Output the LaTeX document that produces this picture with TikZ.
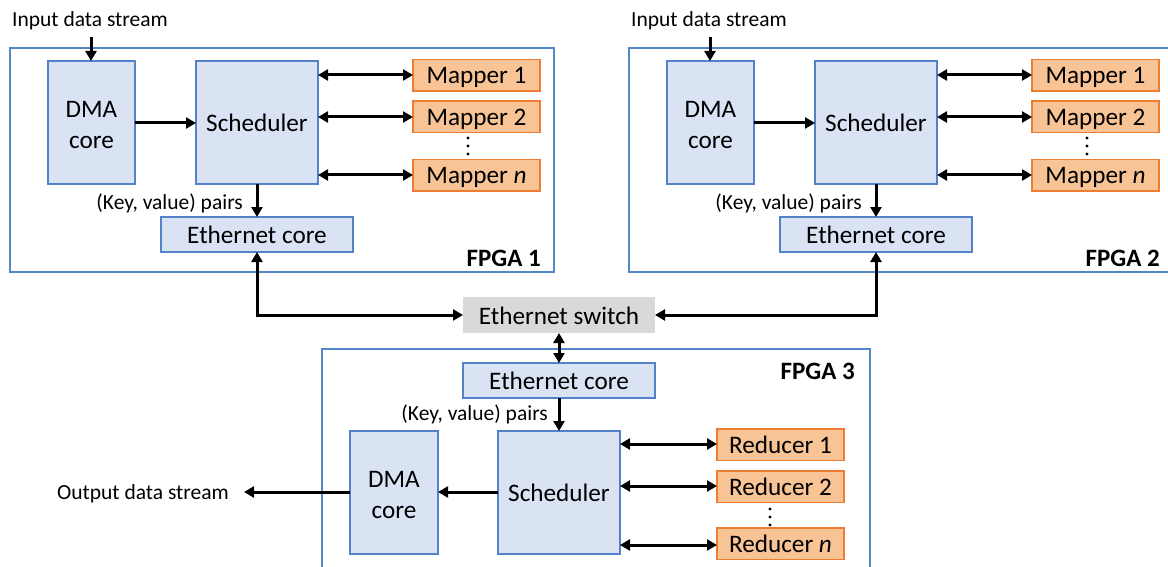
\documentclass[tikz,border=0pt]{standalone}
\usepackage{fontspec}
\setmainfont{Carlito}
\usetikzlibrary{arrows.meta}
\definecolor{bfill}{RGB}{218,227,243}
\definecolor{bdraw}{RGB}{84,130,200}
\definecolor{fdraw}{RGB}{84,135,200}
\definecolor{ofill}{RGB}{248,196,150}
\definecolor{odraw}{RGB}{237,125,49}
\definecolor{gfill}{RGB}{217,217,217}
\newcommand{\twolines}[2]{\raisebox{5pt}{\begin{tabular}[t]{@{}c@{}}#1\\#2\end{tabular}}}
\tikzset{
  bluebox/.style={draw=bdraw,fill=bfill,line width=1.5pt,inner sep=0pt,outer sep=0pt,anchor=north west,font=\fontsize{25.2}{30.6}\selectfont},
  oneline/.style={text height=18pt,text depth=0pt},
  zeroline/.style={text height=0pt,text depth=0pt},
  orbox/.style={draw=odraw,fill=ofill,line width=1.5pt,inner sep=0pt,outer sep=0pt,anchor=north west,minimum width=127pt,minimum height=31.5pt,font=\fontsize{25.2}{28}\selectfont,text height=17pt,text depth=0pt},
  frame/.style={draw=fdraw,line width=1.4pt},
  small/.style={font=\fontsize{21.5}{24}\selectfont,inner sep=0pt},
  flabel/.style={font=\bfseries\fontsize{25}{28}\selectfont,inner sep=0pt,anchor=east},
  arr/.style={line width=3pt,-{Triangle[length=10pt,width=11pt]}},
  darr/.style={line width=3pt,{Triangle[length=10pt,width=11pt]}-{Triangle[length=10pt,width=11pt]}},
  dotc/.style={fill=black,circle,inner sep=0pt,minimum size=3.4pt}
}
\begin{document}
\begin{tikzpicture}[x=1pt,y=-1pt]
\useasboundingbox (0,0) rectangle (1168,567);
\clip (0,0) rectangle (1168,567);
% ---------- FPGA 1 and FPGA 2 ----------
\foreach \dx/\k/\lab in {0/1/{FPGA 1},619/2/{FPGA 2}}{
  \begin{scope}[xshift=\dx]
    \draw[frame] (10,48) rectangle (554,272);
    \node[small] (in\k) at (90,21) {Input data stream};
    \coordinate (inc\k) at (91,37);
    \node[bluebox,zeroline,minimum width=87pt,minimum height=123pt] (dma\k) at (48,61) {\twolines{DMA}{core}};
    \node[bluebox,oneline,minimum width=122pt,minimum height=123pt] (sch\k) at (196,61) {Scheduler};
    \node[orbox] (ma\k) at (413,59.5) {Mapper 1};
    \node[orbox] (mb\k) at (413,101) {Mapper 2};
    \node[orbox] (mn\k) at (413,159.5) {Mapper \emph{n}};
    \node[dotc] (d1\k) at (468,138) {};
    \node[dotc] (d2\k) at (468,146) {};
    \node[dotc] (d3\k) at (468,154) {};
    \node[bluebox,oneline,minimum width=192pt,minimum height=35pt] (eth\k) at (161,217) {Ethernet core};
    \node[small,anchor=east] (kv\k) at (243,203) {(Key, value) pairs};
    \node[flabel] (fl\k) at (541,258) {\lab};
    \draw[arr] (inc\k) -- (dma\k.north -| inc\k);
    \draw[arr] (dma\k.east |- 0,123) -- (sch\k.west |- 0,123);
    \draw[darr] (sch\k.east |- 0,75) -- (ma\k.west |- 0,75);
    \draw[darr] (sch\k.east |- 0,117) -- (mb\k.west |- 0,117);
    \draw[darr] (sch\k.east |- 0,175) -- (mn\k.west |- 0,175);
    \draw[arr] (sch\k.south -| 257,0) -- (eth\k.north -| 257,0);
  \end{scope}
}
% ---------- Ethernet switch ----------
\node[fill=gfill,inner sep=0pt,outer sep=0pt,minimum width=192pt,minimum height=36pt,font=\fontsize{25.2}{28}\selectfont,text height=18pt,text depth=0pt] (sw) at (559,315) {Ethernet switch};
\draw[darr] (eth1.south -| 257,0) |- (sw.west);
\draw[darr] (eth2.south -| 876,0) |- (sw.east);
% ---------- FPGA 3 ----------
\draw[frame] (322,349) rectangle (870,600);
\node[bluebox,oneline,minimum width=192pt,minimum height=35pt] (eth3) at (463,363) {Ethernet core};
\draw[darr] (sw.south) -- (eth3.north);
\node[small,anchor=east] (kv3) at (548,414) {(Key, value) pairs};
\node[flabel] (fl3) at (855,371) {FPGA 3};
\node[bluebox,oneline,minimum width=122pt,minimum height=123pt] (sch3) at (498,431) {Scheduler};
\node[bluebox,zeroline,minimum width=88pt,minimum height=123pt] (dma3) at (350,431) {\twolines{DMA}{core}};
\draw[arr] (eth3.south) -- (sch3.north);
\node[orbox] (ra) at (717,429) {Reducer 1};
\node[orbox] (rb) at (717,471) {Reducer 2};
\node[orbox] (rn) at (717,528) {Reducer \emph{n}};
\node[dotc] (e1) at (770,509) {};
\node[dotc] (e2) at (770,517) {};
\node[dotc] (e3) at (770,525) {};
\draw[darr] (sch3.east |- 0,444) -- (ra.west |- 0,444);
\draw[darr] (sch3.east |- 0,486) -- (rb.west |- 0,486);
\draw[darr] (sch3.east |- 0,545) -- (rn.west |- 0,545);
\draw[arr] (sch3.west |- 0,492) -- (dma3.east |- 0,492);
\coordinate (outc) at (244,492);
\draw[arr] (dma3.west |- 0,492) -- (outc);
\node[small,anchor=east] (out) at (229,494) {Output data stream};
\end{tikzpicture}
\end{document}
